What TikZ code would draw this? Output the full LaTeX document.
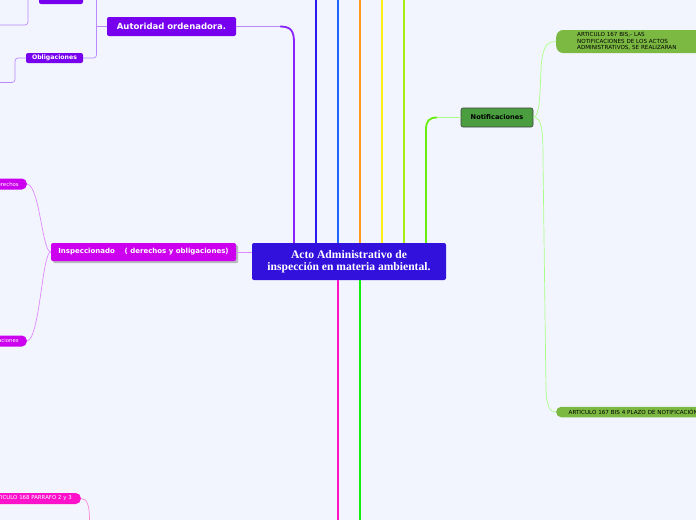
\documentclass[tikz,border=0pt]{standalone}
\usepackage{fontspec}
\newfontfamily\dv{DejaVu Sans}
\newfontfamily\lser{Liberation Serif}
\definecolor{bg}{HTML}{F2F5FD}
\definecolor{cen}{HTML}{3311DD}
\definecolor{purp}{HTML}{7700EE}
\definecolor{purpl}{HTML}{8822FF}
\definecolor{lpurp}{HTML}{BB88FF}
\definecolor{bl1}{HTML}{2A1AEE}
\definecolor{bl2}{HTML}{1A66FF}
\definecolor{org}{HTML}{FF9A1A}
\definecolor{yel}{HTML}{FFEE11}
\definecolor{ygr}{HTML}{AAEE11}
\definecolor{gr1}{HTML}{66EE11}
\definecolor{mag}{HTML}{FF11CC}
\definecolor{gr2}{HTML}{11EE11}
\definecolor{insp}{HTML}{CC00EE}
\definecolor{linsp}{HTML}{E088FF}
\definecolor{lmag}{HTML}{FF88DD}
\definecolor{notif}{HTML}{4A9E3F}
\definecolor{pill}{HTML}{7CB942}
\definecolor{lgr}{HTML}{AAFF88}
\usetikzlibrary{shadows}
\tikzset{
  thick line/.style={line width=1.8pt},
  thin line/.style={line width=0.7pt},
  central/.style={fill=cen, rounded corners=2pt, text=white, font=\lser\bfseries\fontsize{11.6}{12}\selectfont, align=center, minimum width=194pt, minimum height=37pt, inner sep=0pt},
  pbox/.style={fill=purp, rounded corners=2pt, text=white, font=\dv\bfseries\fontsize{8.5}{9}\selectfont, inner sep=0pt},
  ibox/.style={fill=insp, rounded corners=2pt, text=white, font=\dv\bfseries\fontsize{7}{8}\selectfont, inner sep=0pt, drop shadow},
  mpill/.style={rounded corners=5pt, text=white, font=\dv\fontsize{5.4}{6}\selectfont, inner sep=0pt, minimum height=11pt},
  gpill/.style={fill=pill, rounded corners=7pt, text=black, font=\dv\fontsize{5.6}{6.6}\selectfont, inner sep=0pt},
}
\begin{document}
\begin{tikzpicture}[x=1pt,y=-1pt]
\useasboundingbox (0,0) rectangle (696,520);
\clip (0,0) rectangle (696,520);
\fill[bg] (0,0) rectangle (696,520);

% connectors to top
\coordinate (ta) at (294,0);
\coordinate (t1) at (316,0);
\coordinate (t2) at (338,0);
\coordinate (t3) at (360,0);
\coordinate (t4) at (382,0);
\coordinate (t5) at (404,0);
\coordinate (t6) at (426,0);
\coordinate (b1) at (338,520);
\coordinate (b2) at (360,520);

\node[central] (c) at (349,261.5) {Acto Administrativo de\\inspección en materia ambiental.};

\draw[thick line, bl1] (c.north -| t1) -- (t1);
\draw[thick line, bl2] (c.north -| t2) -- (t2);
\draw[thick line, org] (c.north -| t3) -- (t3);
\draw[thick line, yel] (c.north -| t4) -- (t4);
\draw[thick line, ygr] (c.north -| t5) -- (t5);
\draw[thick line, mag] (c.south -| b1) -- (b1);
\draw[thick line, gr2] (c.south -| b2) -- (b2);

% Autoridad ordenadora
\node[pbox, minimum width=129pt, minimum height=19pt] (aut) at (171.5,26.5) {Autoridad ordenadora.};
\coordinate (ak) at (280,26.5);
\draw[thin line, lpurp] (aut.east) -- (ak);
\draw[thick line, purpl] (ak) .. controls (290,26.5) and (294,30) .. (294,42) -- (c.north -| ta);

\node[pbox, font=\dv\bfseries\fontsize{6.2}{7}\selectfont, minimum width=57pt, minimum height=10pt] (obl) at (54.5,58) {Obligaciones};
\node[pbox, minimum width=44pt, minimum height=14pt] (topn) at (61,-3) {};
\coordinate (av) at (96.5,0);
\draw[thin line, lpurp] (aut.west) -- (aut.west -| av);
\draw[thin line, lpurp, rounded corners=3pt] (av) |- (obl.east);
\coordinate (ol) at (0,82.5);
\draw[thin line, lpurp, rounded corners=3pt] (obl.west) -| (15,70) |- (ol);
\coordinate (tl) at (0,25);
\draw[thin line, lpurp, rounded corners=3pt] (28,0) |- (tl);

% Inspeccionado
\node[ibox, minimum width=185pt, minimum height=18pt] (ins) at (143.5,252) {Inspeccionado\ \ \ \ ( derechos y obligaciones)};
\draw[thin line, linsp] (c.west |- ins.east) -- (ins.east);
\node[mpill, fill=insp, anchor=east, minimum width=60pt, text width=54pt, align=right] (der) at (27,184) {Derechos\hspace*{5pt}};
\node[mpill, fill=insp, anchor=east, minimum width=70pt, text width=64pt, align=right] (obi) at (27,341) {Obligaciones\hspace*{5pt}};
\draw[thin line, linsp] (ins.west) .. controls (42,252) and (40,186) .. (der.east);
\draw[thin line, linsp] (ins.west) .. controls (42,252) and (40,339) .. (obi.east);

% Articulo 168
\node[mpill, fill=mag, anchor=east, minimum width=120pt, text width=114pt, align=right] (a168) at (81,498.5) {ARTICULO 168 PARRAFO 2 y 3\hspace*{6pt}};
\coordinate (a168b) at (89.5,520);
\draw[thin line, lmag] (a168.east) .. controls (87,498.5) and (89.5,505) .. (a168b);

% Notificaciones
\node[draw=black!75, line width=0.6pt, fill=notif, rounded corners=2pt, font=\dv\bfseries\fontsize{6.6}{7}\selectfont, minimum width=72pt, minimum height=19pt, inner sep=0pt] (noti) at (497,117.5) {Notificaciones};
\coordinate (gk) at (437,117.5);
\draw[thin line, lgr] (noti.west) -- (gk);
\draw[thick line, gr1] (gk) .. controls (429,117.5) and (426,121) .. (426,130) -- (c.north -| t6);

\node[gpill, anchor=west, minimum width=150pt, minimum height=23pt, text width=140pt, align=left] (p1) at (556,41.5) {\hspace*{16pt}ARTICULO 167 BIS,- LAS\\\hspace*{16pt}NOTIFICACIONES DE LOS ACTOS\\\hspace*{16pt}ADMINISTRATIVOS, SE REALIZARAN};
\node[gpill, rounded corners=5pt, anchor=west, minimum width=150pt, minimum height=10.5pt, text width=145pt, align=left] (p2) at (556,412) {\hspace*{10pt}ARTICULO 167 BIS 4 PLAZO DE NOTIFICACIÓN};
\draw[thin line, lgr] (noti.east) .. controls (540,117.5) and (540,90) .. (541,70) .. controls (542,50) and (545,41.5) .. (p1.west);
\draw[thin line, lgr] (noti.east) .. controls (542,117.5) and (543,130) .. (543,160) -- (546,390) .. controls (547,408) and (550,412) .. (p2.west);
\end{tikzpicture}
\end{document}
